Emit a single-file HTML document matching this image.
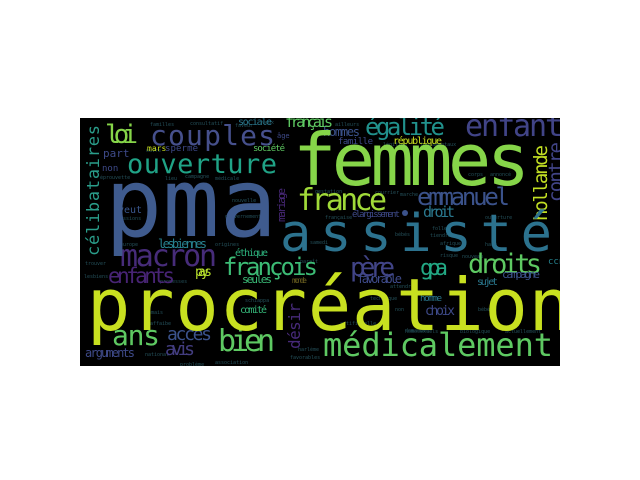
<!DOCTYPE html>
<html><head><meta charset="utf-8"><style>
html,body{margin:0;padding:0;background:#fff;}
svg{display:block;}
text{font-family:"DejaVu Sans Mono","Liberation Mono",monospace;}
</style></head><body>
<svg width="640" height="480" viewBox="0 0 640 480">
<defs><clipPath id="box"><rect x="80" y="118" width="480" height="248"/></clipPath></defs>
<rect x="80" y="118" width="480" height="248" fill="#000"/>
<g clip-path="url(#box)">
<g font-size="5" fill="#24505a">
<text x="150" y="126">familles</text>
<text x="190" y="125">consultatif</text>
<text x="235" y="127">faveur</text>
<text x="262" y="124">veux</text>
<text x="335" y="126">ailleurs</text>
<text x="383" y="146">légitime</text>
<text x="420" y="146">fondamentaux</text>
<text x="100" y="179">éprouvette</text>
<text x="146" y="152">ouvre</text>
<text x="165" y="180">lieu</text>
<text x="185" y="178">campagne</text>
<text x="215" y="180">médicale</text>
<text x="117" y="220">passions</text>
<text x="232" y="202">nouvelle</text>
<text x="225" y="218">gouvernement</text>
<text x="468" y="176">corps</text>
<text x="490" y="176">annoncé</text>
<text x="375" y="194">courrier</text>
<text x="400" y="196">marche</text>
<text x="315" y="193">gestation</text>
<text x="325" y="219">française</text>
<text x="485" y="219">ouverture</text>
<text x="432" y="230">folle</text>
<text x="395" y="236">bébés</text>
<text x="430" y="237">tiendra</text>
<text x="440" y="245">afrique</text>
<text x="85" y="265">trouver</text>
<text x="84" y="278">lesbiens</text>
<text x="120" y="246">europe</text>
<text x="160" y="283">promesses</text>
<text x="215" y="246">origines</text>
<text x="245" y="302">schiappa</text>
<text x="150" y="325">affaibe</text>
<text x="145" y="314">jamais</text>
<text x="145" y="356">national</text>
<text x="180" y="366">problème</text>
<text x="215" y="364">association</text>
<text x="298" y="351">harlème</text>
<text x="290" y="359">favorables</text>
<text x="370" y="300">technique</text>
<text x="395" y="311">non</text>
<text x="390" y="288">attendre</text>
<text x="478" y="311">bébé</text>
<text x="405" y="332">demandes</text>
<text x="405" y="333">homosexuels</text>
<text x="460" y="333">biologique</text>
<text x="505" y="333">actuellement</text>
<text x="340" y="325">artificielle</text>
<text x="310" y="244">samedi</text>
<text x="440" y="257">risque</text>
<text x="462" y="258">nouveau</text>
<text x="300" y="263">paraît</text>
<text x="485" y="246">haut</text>
</g>
<text transform="translate(99,256) rotate(-90)" font-size="17" fill="#2a9d8a" textLength="131" lengthAdjust="spacing">célibataires</text>
<text transform="translate(285,222) rotate(-90)" font-size="11" fill="#482878" textLength="34" lengthAdjust="spacing">mariage</text>
<text transform="translate(547,221) rotate(-90)" font-size="19" fill="#c2df23" textLength="76" lengthAdjust="spacing">hollande</text>
<text transform="translate(562,202) rotate(-90)" font-size="19" fill="#414487" textLength="60" lengthAdjust="spacing">contre</text>
<text transform="translate(300,349) rotate(-90)" font-size="16" fill="#472a7a" textLength="46" lengthAdjust="spacing">désir</text>
<text x="105" y="143" font-size="26" fill="#86d549" textLength="33" lengthAdjust="spacing">loi</text>
<text x="150" y="145" font-size="28" fill="#46508c" textLength="125" lengthAdjust="spacing">couples</text>
<text x="127" y="173" font-size="27" fill="#20a386" textLength="150" lengthAdjust="spacing">ouverture</text>
<text x="238" y="125" font-size="10" fill="#2a788e" textLength="34" lengthAdjust="spacing">sociale</text>
<text x="285" y="127" font-size="15" fill="#5ec962" textLength="48" lengthAdjust="spacing">français</text>
<text x="277" y="138" font-size="7" fill="#3e4a89">âge</text>
<text x="103" y="157" font-size="11" fill="#3e4a89">part</text>
<text x="147" y="151" font-size="8" fill="#c8e020">mars</text>
<text x="165" y="151" font-size="9" fill="#3e4989" textLength="33" lengthAdjust="spacing">sperme</text>
<text x="253" y="151" font-size="9" fill="#5ec962" textLength="32" lengthAdjust="spacing">société</text>
<text x="102" y="171" font-size="9" fill="#3e4a89">non</text>
<text x="118" y="213" font-size="10" fill="#39568c">veut</text>
<text x="323" y="136" font-size="12" fill="#3b528b" textLength="37" lengthAdjust="spacing">hommes</text>
<text x="338" y="144" font-size="9" fill="#3e4a89" textLength="35" lengthAdjust="spacing">famille</text>
<text x="365" y="135" font-size="24" fill="#21918c" textLength="80" lengthAdjust="spacing">égalité</text>
<text x="393" y="144" font-size="10" fill="#c8e020" textLength="49" lengthAdjust="spacing">république</text>
<text x="465" y="136" font-size="30" fill="#414487" textLength="98" lengthAdjust="spacing">enfant</text>
<text x="297" y="210" font-size="30" fill="#a0da39" textLength="90" lengthAdjust="spacing">france</text>
<text x="417" y="205" font-size="24" fill="#3b528b" textLength="93" lengthAdjust="spacing">emmanuel</text>
<circle cx="405" cy="213" r="3" fill="#3b528b"/>
<text x="352" y="217" font-size="9" fill="#3e4a89" textLength="48" lengthAdjust="spacing">élargissement</text>
<text x="423" y="217" font-size="15" fill="#2a788e" textLength="32" lengthAdjust="spacing">droit</text>
<text x="158" y="248" font-size="12" fill="#27808e" textLength="49" lengthAdjust="spacing">lesbiennes</text>
<text x="235" y="256" font-size="10" fill="#2db27d" textLength="33" lengthAdjust="spacing">éthique</text>
<text x="120" y="266" font-size="30" fill="#472c7a" textLength="97" lengthAdjust="spacing">macron</text>
<text x="223" y="275" font-size="24" fill="#3cbb75" textLength="95" lengthAdjust="spacing">françois</text>
<text x="108" y="283" font-size="21" fill="#482475" textLength="67" lengthAdjust="spacing">enfants</text>
<text x="195" y="276" font-size="13" fill="#b5de2b" textLength="17" lengthAdjust="spacing">pays</text>
<text x="242" y="283" font-size="11" fill="#3aba76" textLength="30" lengthAdjust="spacing">seules</text>
<text x="292" y="283" font-size="8" fill="#6b6020" textLength="15" lengthAdjust="spacing">monde</text>
<text x="240" y="313" font-size="10" fill="#35b779" textLength="27" lengthAdjust="spacing">comité</text>
<text x="350" y="276" font-size="26" fill="#414487" textLength="45" lengthAdjust="spacing">père</text>
<text x="420" y="275" font-size="22" fill="#22a884" textLength="28" lengthAdjust="spacing">gpa</text>
<text x="468" y="273" font-size="27" fill="#5ec962" textLength="74" lengthAdjust="spacing">droits</text>
<text x="548" y="264" font-size="9" fill="#26828e">ccne</text>
<text x="502" y="278" font-size="11" fill="#3b528b" textLength="38" lengthAdjust="spacing">campagne</text>
<text x="357" y="283" font-size="12" fill="#3e4a89" textLength="45" lengthAdjust="spacing">favorable</text>
<text x="477" y="285" font-size="10" fill="#2a788e" textLength="21" lengthAdjust="spacing">sujet</text>
<text x="420" y="301" font-size="9" fill="#2a788e" textLength="22" lengthAdjust="spacing">homme</text>
<text x="425" y="315" font-size="13" fill="#3e4a89" textLength="30" lengthAdjust="spacing">choix</text>
<text x="112" y="345" font-size="28" fill="#5ec962" textLength="48" lengthAdjust="spacing">ans</text>
<text x="167" y="340" font-size="18" fill="#3b528b" textLength="45" lengthAdjust="spacing">accès</text>
<text x="165" y="355" font-size="18" fill="#433d80" textLength="30" lengthAdjust="spacing">avis</text>
<text x="218" y="351" font-size="30" fill="#5ec962" textLength="57" lengthAdjust="spacing">bien</text>
<text x="85" y="357" font-size="12" fill="#3e4a89" textLength="50" lengthAdjust="spacing">arguments</text>
<text x="293" y="185" font-size="72" fill="#86d549" textLength="237" lengthAdjust="spacing">femmes</text>
<text x="105" y="236" font-size="95" fill="#3f5b8e" textLength="172" lengthAdjust="spacing">pma</text>
<text x="280" y="251" font-size="52" fill="#2c728e" textLength="312" lengthAdjust="spacing">assistée</text>
<text x="87" y="330" font-size="72" fill="#c8e020" textLength="485" lengthAdjust="spacing">procréation</text>
<text x="323" y="356" font-size="32" fill="#5ec962" textLength="230" lengthAdjust="spacing">médicalement</text>
</g>
</svg>
</body></html>
